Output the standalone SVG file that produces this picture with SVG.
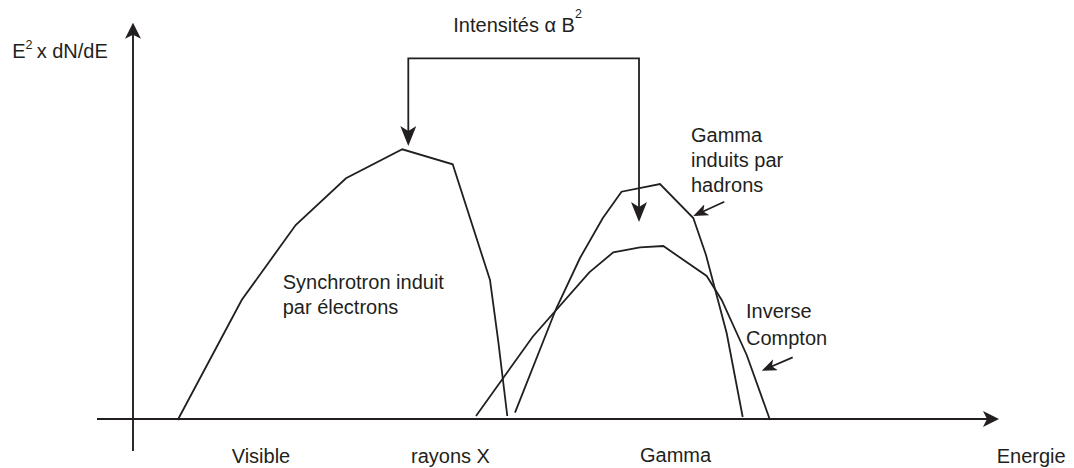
<svg xmlns="http://www.w3.org/2000/svg" width="1074" height="468" viewBox="0 0 1074 468">
  <style>
    .ln { fill: none; stroke: #231f20; stroke-width: 1.8; stroke-linecap: butt; stroke-linejoin: miter; }
    .ax { fill: none; stroke: #231f20; stroke-width: 1.9; }
    .tx { font-family: "Liberation Sans", Arial, sans-serif; font-size: 20px; fill: #231f20; }
    .sup { font-family: "Liberation Sans", Arial, sans-serif; font-size: 12.5px; fill: #231f20; }
    .head { fill: #231f20; stroke: none; }
  </style>
  <defs>
    <marker id="arrowAxis" markerUnits="userSpaceOnUse" viewBox="0 0 16 16" refX="12" refY="8" markerWidth="16" markerHeight="16" orient="auto-start-reverse">
      <path class="head" d="M16,8 L0,0 L4,8 L0,16 Z"/>
    </marker>
    <marker id="arrowBig" markerUnits="userSpaceOnUse" viewBox="0 0 20 16" refX="16" refY="8" markerWidth="20" markerHeight="16" orient="auto-start-reverse">
      <path class="head" d="M20,8 L0,0 L5,8 L0,16 Z"/>
    </marker>
    <marker id="arrowSmall" markerUnits="userSpaceOnUse" viewBox="0 0 15 12" refX="12" refY="6" markerWidth="15" markerHeight="12" orient="auto">
      <path class="head" d="M15,6 L0,0 L4,6 L0,12 Z"/>
    </marker>
  </defs>

  <rect width="1074" height="468" fill="#ffffff"/>

  <g id="axes">
    <path class="ax" d="M133,451 V26.7" marker-end="url(#arrowAxis)"/>
    <path class="ax" d="M97,419 H995" marker-end="url(#arrowAxis)"/>
  </g>

  <g id="curves">
    <polyline id="synchrotron" class="ln" points="177.7,420 241.7,300 295.7,225 346,178.3 402.3,149.3 452.7,164.3 490,280 498.3,341.7 507.3,416"/>
    <polyline id="inverse-compton" class="ln" points="476,416 532.7,336.7 589.3,272.3 613.3,252.3 640,247.3 663.3,246 706.7,276 721.7,300 746.7,355 770,420"/>
    <polyline id="gamma-hadrons" class="ln" points="515,412.7 556,309 580,258 602.7,218.3 621.5,191.7 660,184 693.3,218 706,255 726.7,333.3 742.7,417"/>
  </g>

  <g id="connectors">
    <path class="ln" d="M408.3,142 V58.3 H639 V218" marker-start="url(#arrowBig)" marker-end="url(#arrowBig)"/>
    <path class="ln" d="M724.3,201.7 L696,214.8" marker-end="url(#arrowSmall)"/>
    <path class="ln" d="M792.7,357.3 L764.5,369.5" marker-end="url(#arrowSmall)"/>
  </g>

  <g id="labels">
    <g id="y-label">
      <text class="tx" x="12.3" y="57.7">E</text>
      <text class="sup" x="25.5" y="49.3">2</text>
      <text class="tx" x="36.7" y="57.7">x dN/dE</text>
    </g>
    <g id="intensites">
      <text class="tx" x="453.3" y="31.7">Intensités α B</text>
      <text class="sup" x="575" y="17.5">2</text>
    </g>
    <text id="synchrotron-label" class="tx" x="282.7" y="289.3">Synchrotron induit<tspan x="282.7" y="314">par électrons</tspan></text>
    <text id="hadrons-label" class="tx" x="691" y="142.3">Gamma<tspan x="691" y="166.5">induits par</tspan><tspan x="691" y="191.5">hadrons</tspan></text>
    <text id="compton-label" class="tx" x="746" y="318.3">Inverse<tspan x="746" y="344.5">Compton</tspan></text>
    <text class="tx" x="231.7" y="463">Visible</text>
    <text class="tx" x="411" y="463">rayons X</text>
    <text class="tx" x="640" y="462">Gamma</text>
    <text class="tx" x="996.7" y="462.7">Energie</text>
  </g>
</svg>
